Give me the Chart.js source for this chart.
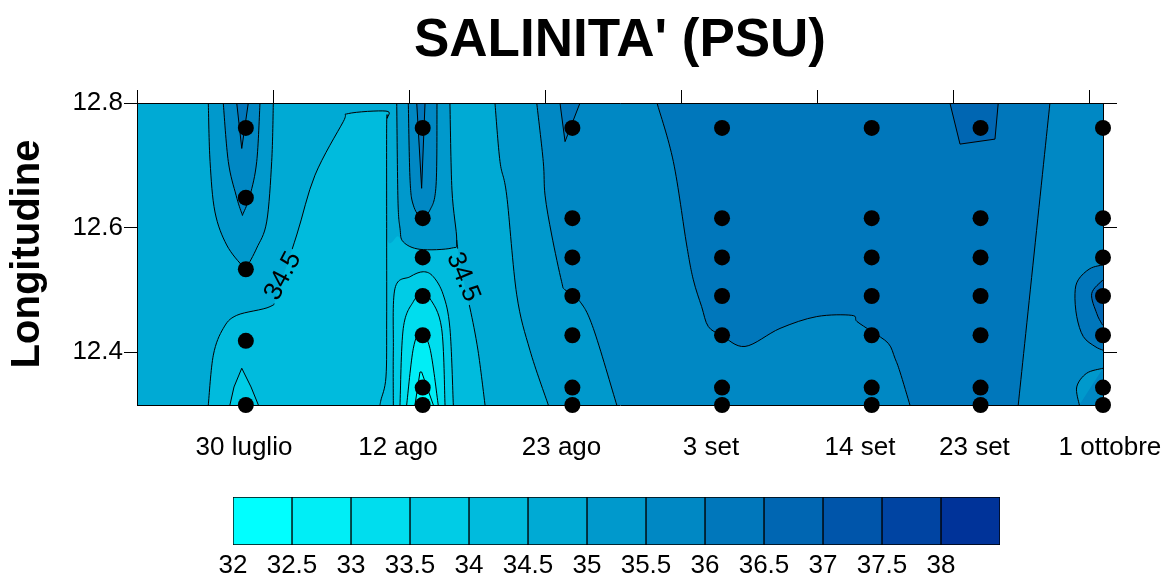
<!DOCTYPE html>
<html>
<head>
<meta charset="utf-8">
<title>Salinita</title>
<script src="https://cdn.jsdelivr.net/npm/chart.js@4.4.1/dist/chart.umd.min.js"></script>
<style>
    body { margin: 0; background: #fff; }
    #wrap { position: relative; width: 1165px; height: 580px; }
    canvas { position: absolute; left: 0; }
</style>
</head>
<body>
<div id="wrap">
    <canvas id="main" width="1165" height="470" style="top:0"></canvas>
    <canvas id="bar" width="1165" height="110" style="top:470px"></canvas>
</div>
<script>
// stations: days after 30 July, longitudes sampled
var stationDays = [0, 13, 24, 35, 46, 54, 63];
var firstLons = [12.76, 12.648, 12.533, 12.418, 12.315];
var otherLons = [12.76, 12.615, 12.552, 12.49, 12.427, 12.343, 12.315];

// x tick labels (dates) and where they sit on the day axis
var dateLabels = ["30 luglio", "12 ago", "23 ago", "3 set", "14 set", "23 set", "1 ottobre"];
var dateDays = [-0.14, 11.18, 23.2, 34.19, 45.14, 53.55, 63.51];
var topTickDays = [-8, 2, 12, 22, 32, 42, 52, 62];
var lonTicks = [12.4, 12.6, 12.8];

// salinity classes (lower bound) and their colours
var levels = [32, 32.5, 33, 33.5, 34, 34.5, 35, 35.5, 36, 36.5, 37, 37.5, 38];
var levelColors = ["#00FFFF", "#00EEF6", "#00DDEE", "#00CCE6", "#00BBDD", "#00AAD4", "#0099CC",
    "#0088C4", "#0077BB", "#0066B2", "#0055AA", "#0044A2", "#003399"];
var levelStep = 0.5;
var baseLevel = 34.5;

// contour areas, vertices as [day, longitude]
var bay34 = [[-2.76, 12.315], [-2.39, 12.395], [-1.66, 12.438], [-0.67, 12.459], [1.78, 12.473], [2.27, 12.492],
    [3.74, 12.588], [5.08, 12.684], [7.16, 12.770], [7.53, 12.783], [10.30, 12.787], [10.41, 12.776],
    [10.35, 12.765], [10.35, 12.588], [11.18, 12.586], [11.57, 12.577], [12.80, 12.565], [15.13, 12.567],
    [15.50, 12.580], [15.59, 12.564], [15.89, 12.524], [16.47, 12.471], [17.06, 12.403], [17.58, 12.315]];
var bayLine = [[-2.76, 12.315], [-2.39, 12.395], [-1.66, 12.438], [-0.67, 12.459], [1.78, 12.473], [2.27, 12.492],
    [3.74, 12.588], [5.08, 12.684], [7.16, 12.770], [7.53, 12.783], [10.30, 12.787], [10.41, 12.776],
    [10.35, 12.765], [10.35, 12.588], [10.35, 12.45], [10.30, 12.36], [9.93, 12.323], [9.86, 12.315]];
var labelLine = [[15.50, 12.580], [15.59, 12.564], [15.89, 12.524], [16.47, 12.471], [17.06, 12.403], [17.58, 12.315]];

var col0Low = [[-1.17, 12.315], [-0.87, 12.344], [-0.30, 12.374], [0.38, 12.344], [0.92, 12.315]];
var dome1 = [[10.84, 12.315], [10.84, 12.403], [10.96, 12.502], [12.07, 12.521], [13.04, 12.529], [13.78, 12.521],
    [14.51, 12.492], [15.00, 12.438], [15.25, 12.315]];
var dome2 = [[11.33, 12.315], [11.57, 12.438], [12.31, 12.481], [12.92, 12.492], [13.53, 12.486], [14.39, 12.438], [14.64, 12.315]];
var dome3 = [[11.82, 12.315], [12.31, 12.406], [12.85, 12.430], [13.53, 12.406], [14.14, 12.315]];
var dome4 = [[12.43, 12.315], [12.80, 12.368], [12.92, 12.368], [13.78, 12.315]];

var tongue0a = [[-2.76, 12.8], [-2.63, 12.706], [-2.27, 12.625], [-1.41, 12.572], [-0.19, 12.537], [0.06, 12.537],
    [0.80, 12.567], [1.53, 12.609], [1.90, 12.706], [2.02, 12.8]];
var tongue0b = [[-1.66, 12.8], [-1.29, 12.706], [-0.72, 12.652], [-0.30, 12.623], [-0.19, 12.623], [0.31, 12.652], [0.80, 12.706], [1.04, 12.8]];
var tongue0c = [[-0.67, 12.8], [-0.30, 12.727], [0.18, 12.8]];
var tongue1a = [[11.09, 12.8], [11.18, 12.644], [11.33, 12.599], [11.57, 12.577], [12.80, 12.565], [15.13, 12.567],
    [15.50, 12.580], [15.15, 12.66], [15.00, 12.8]];
var tongue1b = [[11.94, 12.8], [12.07, 12.676], [12.31, 12.636], [12.87, 12.617], [13.53, 12.628], [13.98, 12.668], [14.05, 12.8]];
var tongue1c = [[12.56, 12.8], [12.92, 12.663], [13.17, 12.8]];

var band35 = [[18.31, 12.8], [18.68, 12.706], [19.17, 12.652], [19.91, 12.492], [20.88, 12.403], [22.23, 12.315]];
var band355 = [[21.38, 12.8], [21.86, 12.706], [21.99, 12.652], [22.48, 12.588], [23.21, 12.513], [23.46, 12.500],
    [24.56, 12.481], [25.54, 12.438], [27.26, 12.315]];
var top36 = [[23.09, 12.8], [23.46, 12.738], [24.56, 12.8]];
var band36 = [[30.22, 12.8], [31.42, 12.706], [32.40, 12.572], [32.89, 12.516], [33.50, 12.473], [33.99, 12.441],
    [34.97, 12.427], [36.69, 12.409], [39.26, 12.438], [41.96, 12.457], [44.53, 12.459], [44.92, 12.449],
    [46.00, 12.433], [47.22, 12.414], [47.71, 12.390], [48.08, 12.368], [48.81, 12.315]];
var back355 = [[59.10, 12.8], [56.77, 12.315]];
var pocket365 = [[51.75, 12.8], [52.49, 12.734], [55.06, 12.742], [55.30, 12.8]];
var bulge36 = [[63, 12.540], [62.04, 12.534], [61.18, 12.516], [60.94, 12.494], [61.07, 12.457], [61.55, 12.425], [62.41, 12.409], [63, 12.403]];
var bulge365 = [[63, 12.516], [62.17, 12.494], [62.54, 12.462], [62.90, 12.446], [63, 12.443]];
var corner35 = [[63, 12.374], [61.80, 12.366], [61.07, 12.344], [61.26, 12.315]];

var areas = [
    {level: 34, pts: bay34, stroke: false},
    {level: 33.5, pts: col0Low, sharp: true},
    {level: 33.5, pts: dome1},
    {level: 33, pts: dome2},
    {level: 32.5, pts: dome3},
    {level: 32, pts: dome4, sharp: true},
    {level: 35, pts: tongue0a},
    {level: 35.5, pts: tongue0b},
    {level: 36, pts: tongue0c, sharp: true},
    {level: 35, pts: tongue1a},
    {level: 35.5, pts: tongue1b},
    {level: 36, pts: tongue1c, sharp: true},
    {level: 35, pts: band35, toRight: true},
    {level: 35.5, pts: band355, toRight: true},
    {level: 36, pts: top36, sharp: true},
    {level: 36, pts: band36, toRight: true},
    {level: 35.5, pts: back355, toRight: true},
    {level: 36.5, pts: pocket365, sharp: true},
    {level: 36, pts: bulge36},
    {level: 36.5, pts: bulge365},
    {level: 35, pts: corner35}
];
var extraLines = [bayLine, labelLine];

// contour labels
var contourLabels = [
    {text: "34.5", day: 2.73, lon: 12.522, angle: -62},
    {text: "34.5", day: 15.96, lon: 12.5205, angle: 68}
];

Chart.defaults.font.family = '"Liberation Sans", Arial, sans-serif';
Chart.defaults.font.size = 26;
Chart.defaults.color = "#000";
Chart.defaults.animation = false;

function levelColor(v) {
    return levelColors[Math.round((v - levels[0]) / levelStep)];
}

var contourPlugin = {
    id: "contours",
    beforeDraw: function (chart) {
        var ctx = chart.ctx;
        var a = chart.chartArea;
        var xs = chart.scales.x;
        var ys = chart.scales.y;
        function px(p) {
            return [xs.getPixelForValue(p[0]), ys.getPixelForValue(p[1])];
        }
        // catmull-rom through the vertices unless the shape is sharp
        function trace(pts, sharp) {
            var q = pts.map(px);
            ctx.moveTo(q[0][0], q[0][1]);
            for (var i = 0; i < q.length - 1; i++) {
                var p1 = q[i], p2 = q[i + 1];
                if (sharp) {
                    ctx.lineTo(p2[0], p2[1]);
                    continue;
                }
                var p0 = q[i - 1] || p1, p3 = q[i + 2] || p2;
                ctx.bezierCurveTo(
                    p1[0] + (p2[0] - p0[0]) / 6, p1[1] + (p2[1] - p0[1]) / 6,
                    p2[0] - (p3[0] - p1[0]) / 6, p2[1] - (p3[1] - p1[1]) / 6,
                    p2[0], p2[1]);
            }
        }

        ctx.save();
        ctx.beginPath();
        ctx.rect(a.left, a.top, a.right - a.left, a.bottom - a.top);
        ctx.clip();
        ctx.fillStyle = levelColor(baseLevel);
        ctx.fillRect(a.left, a.top, a.right - a.left, a.bottom - a.top);

        areas.forEach(function (ar) {
            ctx.beginPath();
            trace(ar.pts, ar.sharp);
            if (ar.toRight) {
                var c1 = px([xs.max, ys.min]), c2 = px([xs.max, ys.max]);
                ctx.lineTo(c1[0], c1[1]);
                ctx.lineTo(c2[0], c2[1]);
            }
            ctx.closePath();
            ctx.fillStyle = levelColor(ar.level);
            ctx.fill();
        });

        // cut the lines where the labels go
        ctx.font = '26px "Liberation Sans", Arial, sans-serif';
        ctx.beginPath();
        ctx.rect(a.left, a.top, a.right - a.left, a.bottom - a.top);
        contourLabels.forEach(function (lb) {
            var c = px([lb.day, lb.lon]);
            var w = ctx.measureText(lb.text).width / 2 + 3;
            var h = 10;
            var t = lb.angle * Math.PI / 180;
            var cs = Math.cos(t), sn = Math.sin(t);
            [[-1, -1], [1, -1], [1, 1], [-1, 1]].forEach(function (s, i) {
                var x = c[0] + s[0] * w * cs - s[1] * h * sn;
                var y = c[1] + s[0] * w * sn + s[1] * h * cs;
                if (i === 0) ctx.moveTo(x, y);
                else ctx.lineTo(x, y);
            });
            ctx.closePath();
        });
        ctx.clip("evenodd");

        ctx.beginPath();
        areas.forEach(function (ar) {
            if (ar.stroke !== false) trace(ar.pts, ar.sharp);
        });
        extraLines.forEach(function (l) { trace(l, false); });
        ctx.strokeStyle = "#000";
        ctx.lineWidth = 1;
        ctx.stroke();
        ctx.restore();

        ctx.save();
        ctx.font = '26px "Liberation Sans", Arial, sans-serif';
        ctx.fillStyle = "#000";
        ctx.textAlign = "center";
        ctx.textBaseline = "middle";
        contourLabels.forEach(function (lb) {
            var c = px([lb.day, lb.lon]);
            ctx.save();
            ctx.translate(c[0], c[1]);
            ctx.rotate(lb.angle * Math.PI / 180);
            ctx.fillText(lb.text, 0, 0);
            ctx.restore();
        });
        ctx.restore();
    }
};

var stationPoints = [];
stationDays.forEach(function (d, i) {
    var lons = i === 0 ? firstLons : otherLons;
    lons.forEach(function (l) {
        stationPoints.push({x: d, y: l});
    });
});

function tickList(values) {
    return function (scale) {
        scale.ticks = values.map(function (v) { return {value: v}; });
    };
}

function fixHeight(h) {
    return function (s) {
        s.height = h;
        s.paddingLeft = 0;
        s.paddingRight = 0;
    };
}

var blackGrid = {drawOnChartArea: false, drawTicks: true, tickLength: 13, color: "#000", lineWidth: 1};
var blackBorder = {display: true, color: "#000", width: 1};

new Chart(document.getElementById("main"), {
    type: "scatter",
    data: {
        datasets: [{
            data: stationPoints,
            pointRadius: 8,
            pointHoverRadius: 8,
            backgroundColor: "#000",
            borderWidth: 0,
            clip: false
        }]
    },
    options: {
        responsive: false,
        events: [],
        layout: {padding: 0},
        plugins: {
            legend: {display: false},
            tooltip: {enabled: false},
            title: {
                display: true,
                text: "SALINITA' (PSU)",
                fullSize: false,
                color: "#000",
                font: {size: 53, weight: "bold"},
                padding: {top: 10, bottom: 8}
            }
        },
        scales: {
            x: {
                type: "linear",
                position: "bottom",
                min: -8,
                max: 63,
                afterBuildTicks: tickList(dateDays),
                afterFit: fixHeight(65),
                ticks: {
                    autoSkip: false,
                    maxRotation: 0,
                    minRotation: 0,
                    padding: 27,
                    callback: function (v, i) { return dateLabels[i]; }
                },
                grid: {drawOnChartArea: false, drawTicks: false, color: "#000"},
                border: blackBorder
            },
            x2: {
                type: "linear",
                axis: "x",
                position: "top",
                min: -8,
                max: 63,
                afterBuildTicks: tickList(topTickDays),
                afterFit: fixHeight(21.4),
                ticks: {display: false},
                grid: blackGrid,
                border: blackBorder
            },
            y: {
                type: "linear",
                position: "left",
                min: 12.315,
                max: 12.8,
                afterBuildTicks: tickList(lonTicks),
                afterFit: function (s) { s.width = 137; },
                ticks: {padding: 1, callback: function (v) { return String(v); }},
                grid: blackGrid,
                border: blackBorder,
                title: {
                    display: true,
                    text: "Longitudine",
                    color: "#000",
                    font: {size: 40, weight: "bold"},
                    padding: {top: 4, bottom: 0}
                }
            },
            y2: {
                type: "linear",
                axis: "y",
                position: "right",
                min: 12.315,
                max: 12.8,
                afterBuildTicks: tickList(lonTicks),
                afterFit: function (s) { s.width = 62; },
                ticks: {display: false},
                grid: {drawOnChartArea: false, drawTicks: true, tickLength: 14, color: "#000", lineWidth: 1},
                border: blackBorder
            }
        }
    },
    plugins: [contourPlugin]
});

// colour bar
var barSets = levels.map(function (lv, i) {
    return {
        data: [[lv, lv + levelStep]],
        backgroundColor: levelColors[i],
        borderColor: "#000",
        borderWidth: 1,
        borderSkipped: false,
        grouped: false,
        barPercentage: 1,
        categoryPercentage: 1
    };
});

new Chart(document.getElementById("bar"), {
    type: "bar",
    data: {labels: [""], datasets: barSets},
    options: {
        indexAxis: "y",
        responsive: false,
        events: [],
        layout: {padding: {left: 233, right: 165, top: 27, bottom: 0}},
        plugins: {legend: {display: false}, tooltip: {enabled: false}},
        scales: {
            y: {display: false},
            x: {
                type: "linear",
                min: levels[0],
                max: levels[levels.length - 1] + levelStep,
                afterBuildTicks: tickList(levels),
                afterFit: fixHeight(35),
                ticks: {
                    autoSkip: false,
                    maxRotation: 0,
                    padding: 5,
                    callback: function (v) { return String(v); }
                },
                grid: {display: false, drawTicks: false},
                border: {display: false}
            }
        }
    }
});
</script>
</body>
</html>
